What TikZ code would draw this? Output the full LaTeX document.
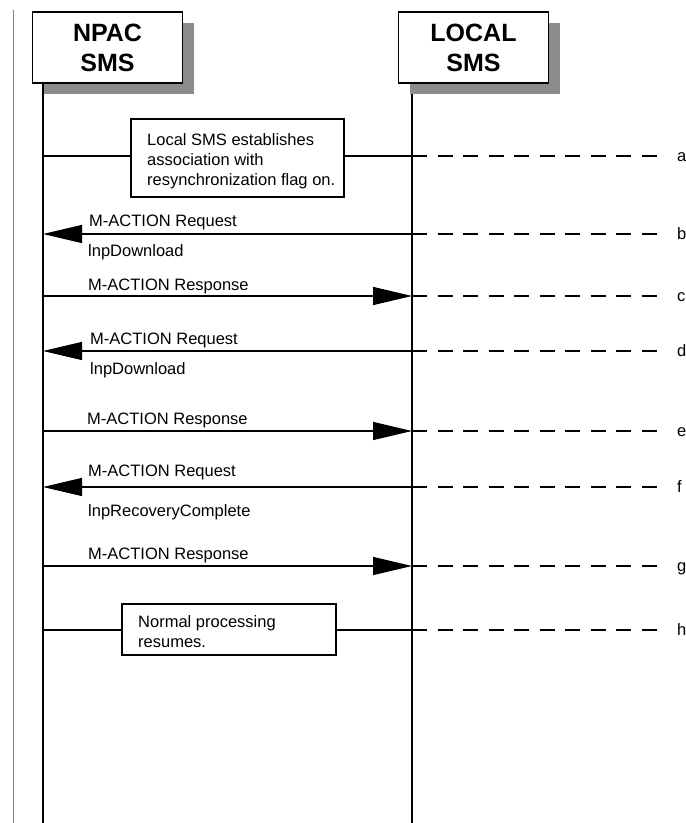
\documentclass[tikz,border=0pt]{standalone}
\usepackage{fontspec}
\setmainfont{Liberation Sans}
\usetikzlibrary{arrows.meta,shadows}
\definecolor{shadowgray}{RGB}{140,140,140}
\definecolor{framegray}{RGB}{130,130,130}
\begin{document}
\begin{tikzpicture}[x=1pt,y=-1pt,
  head/.style={draw, fill=white, line width=1.3pt, minimum width=150pt,
    minimum height=71pt, align=center, inner sep=0pt,
    font=\fontsize{25}{30}\selectfont\bfseries,
    drop shadow={shadow xshift=11pt, shadow yshift=-11pt, fill=shadowgray, opacity=1}},
  life/.style={line width=1.4pt},
  msg/.style={line width=1.3pt, -{Triangle[length=39pt,width=18pt]}},
  link/.style={line width=1.3pt},
  guide/.style={line width=1.3pt, dash pattern=on 15pt off 10.5pt},
  note/.style={draw, fill=white, line width=1.3pt, inner sep=0pt},
  txt/.style={inner sep=0pt, font=\fontsize{16.5}{20}\selectfont},
  tag/.style={inner sep=0pt, font=\fontsize{16.5}{20}\selectfont, anchor=base west},
]
\useasboundingbox (0,0) rectangle (686,823);

% page frame line on the left
\coordinate (fr0) at (13,10);
\coordinate (fr1) at (13,823);
\draw[framegray, line width=1pt] (fr0) -- (fr1);

% lifelines
\coordinate (n0) at (43,83);  \coordinate (n1) at (43,823);
\coordinate (l0) at (412,83); \coordinate (l1) at (412,823);
\draw[life] (n0) -- (n1);
\draw[life] (l0) -- (l1);

% participants
\node[head] (npac)  at (107.5,47.5) {NPAC\\SMS};
\node[head] (local) at (473.5,47.5) {LOCAL\\SMS};

% (a) association set-up
\node[note, minimum width=213pt, minimum height=78pt] (boxa) at (237.5,158) {};
\node[txt, anchor=north west, align=left] (texta) at (147,133.2)
  {Local SMS establishes\\association with\\resynchronization flag on.};
\coordinate (na) at (43,156); \coordinate (la) at (412,156); \coordinate (da) at (657,156);
\draw[link] (na) -- (na -| boxa.west);
\draw[link] (la -| boxa.east) -- (la);
\draw[guide] (la) -- (da);
\node[tag] (taga) at (677,161) {a};

% (b) download request
\coordinate (nb) at (43,234); \coordinate (lb) at (412,234); \coordinate (db) at (657,234);
\draw[msg] (lb) -- (nb);
\draw[guide] (lb) -- (db);
\node[txt, anchor=base west] (b1) at (89,226) {M-ACTION Request};
\node[txt, anchor=base west] (b2) at (88,256) {lnpDownload};
\node[tag] (tagb) at (677,239) {b};

% (c) response
\coordinate (nc) at (43,296); \coordinate (lc) at (412,296); \coordinate (dc) at (657,296);
\draw[msg] (nc) -- (lc);
\draw[guide] (lc) -- (dc);
\node[txt, anchor=base west] (c1) at (88,290) {M-ACTION Response};
\node[tag] (tagc) at (677,301) {c};

% (d) download request
\coordinate (nd) at (43,351); \coordinate (ld) at (412,351); \coordinate (dd) at (657,351);
\draw[msg] (ld) -- (nd);
\draw[guide] (ld) -- (dd);
\node[txt, anchor=base west] (d1) at (90,344) {M-ACTION Request};
\node[txt, anchor=base west] (d2) at (90,374) {lnpDownload};
\node[tag] (tagd) at (677,356) {d};

% (e) response
\coordinate (ne) at (43,431); \coordinate (le) at (412,431); \coordinate (de) at (657,431);
\draw[msg] (ne) -- (le);
\draw[guide] (le) -- (de);
\node[txt, anchor=base west] (e1) at (87,424) {M-ACTION Response};
\node[tag] (tage) at (677,436) {e};

% (f) recovery complete request
\coordinate (nf) at (43,487); \coordinate (lf) at (412,487); \coordinate (df) at (657,487);
\draw[msg] (lf) -- (nf);
\draw[guide] (lf) -- (df);
\node[txt, anchor=base west] (f1) at (88,476) {M-ACTION Request};
\node[txt, anchor=base west] (f2) at (88,516) {lnpRecoveryComplete};
\node[tag] (tagf) at (677,492) {f};

% (g) response
\coordinate (ng) at (43,566); \coordinate (lg) at (412,566); \coordinate (dg) at (657,566);
\draw[msg] (ng) -- (lg);
\draw[guide] (lg) -- (dg);
\node[txt, anchor=base west] (g1) at (88,559) {M-ACTION Response};
\node[tag] (tagg) at (677,571) {g};

% (h) normal processing
\node[note, minimum width=214pt, minimum height=51pt] (boxh) at (229,629.5) {};
\node[txt, anchor=north west, align=left] (texth) at (138,615.2)
  {Normal processing\\resumes.};
\coordinate (nh) at (43,630); \coordinate (lh) at (412,630); \coordinate (dh) at (657,630);
\draw[link] (nh) -- (nh -| boxh.west);
\draw[link] (lh -| boxh.east) -- (lh);
\draw[guide] (lh) -- (dh);
\node[tag] (tagh) at (677,635) {h};
\end{tikzpicture}
\end{document}
